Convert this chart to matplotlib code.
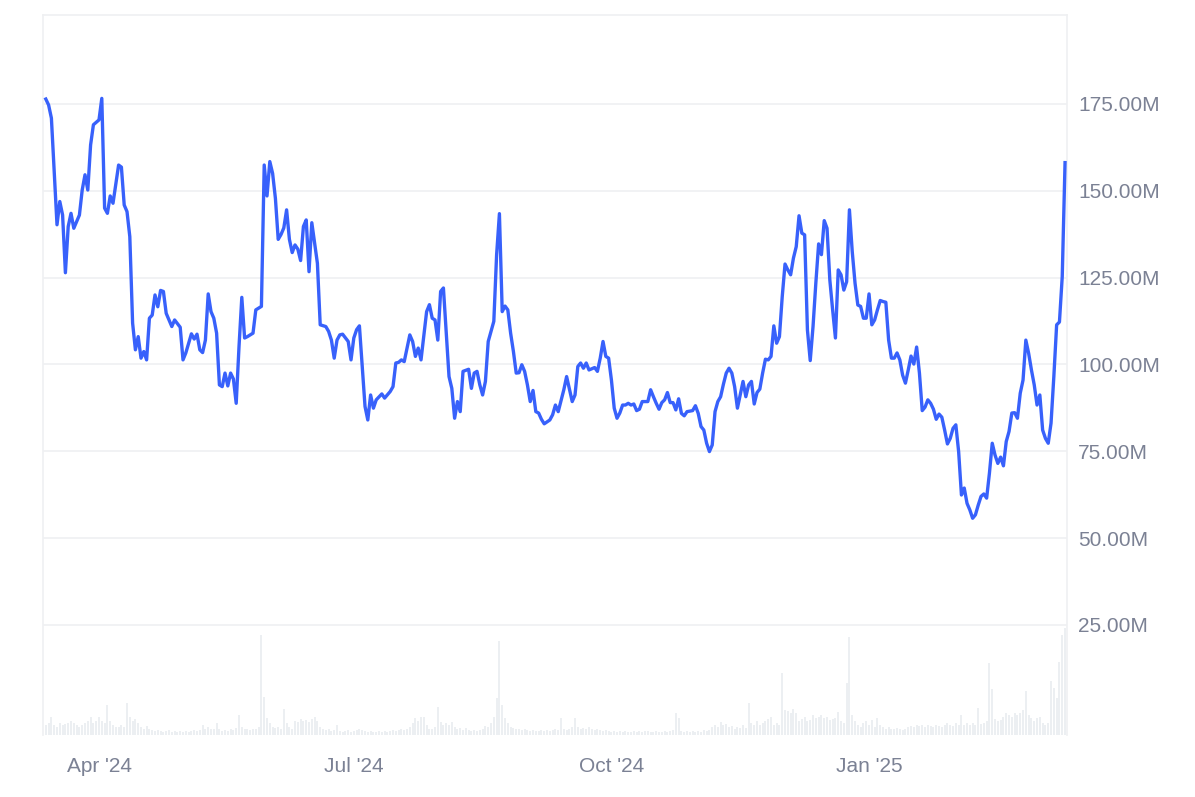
import pandas as pd
import matplotlib
matplotlib.use('Agg')
from matplotlib import pyplot
import matplotlib.dates as mdates
from matplotlib.ticker import FuncFormatter

line_colour = '#3861fb'
grid_colour = '#eff0f2'
bar_colour = '#eceff2'
label_colour = '#7b8194'

start_date = '2024-03-13'

# day offset from start_date and value (millions)
day = [
    0, 1, 2, 4, 5, 6, 7, 8, 9, 10, 12, 13, 14, 15, 16, 17, 19, 20, 21, 22,
    23, 24, 26, 27, 28, 29, 30, 31, 32, 33, 34, 35, 36, 37, 38, 39, 40, 41, 42, 43,
    45, 46, 48, 49, 50, 52, 53, 54, 55, 56, 57, 58, 59, 60, 61, 62, 63, 64, 65, 66,
    67, 68, 69, 70, 71, 72, 74, 75, 76, 77, 78, 79, 80, 81, 82, 83, 84, 85, 86, 87,
    88, 89, 90, 91, 92, 93, 94, 95, 96, 97, 98, 100, 101, 102, 103, 104, 105, 106, 108, 109,
    110, 111, 112, 113, 114, 115, 116, 117, 118, 120, 121, 123, 124, 125, 126, 127, 128, 130, 131, 132,
    133, 134, 136, 137, 138, 139, 140, 141, 142, 144, 145, 146, 147, 148, 149, 151, 152, 153, 154, 155,
    156, 157, 158, 159, 160, 161, 162, 163, 164, 165, 166, 167, 168, 169, 170, 171, 172, 173, 174, 175,
    176, 177, 178, 180, 181, 182, 183, 185, 186, 187, 188, 189, 190, 191, 192, 193, 194, 196, 197, 198,
    199, 200, 201, 202, 203, 204, 205, 206, 207, 208, 209, 210, 211, 212, 213, 215, 216, 217, 218, 219,
    220, 221, 222, 223, 224, 225, 226, 227, 228, 229, 231, 232, 233, 234, 235, 236, 237, 238, 239, 240,
    241, 242, 243, 244, 245, 246, 247, 248, 249, 250, 251, 252, 253, 254, 255, 256, 257, 258, 259, 260,
    261, 262, 263, 264, 265, 266, 267, 268, 269, 270, 271, 272, 273, 274, 275, 276, 277, 278, 279, 280,
    281, 282, 283, 284, 285, 286, 287, 288, 289, 290, 291, 292, 293, 294, 295, 296, 297, 298, 299, 300,
    301, 302, 303, 304, 305, 306, 307, 308, 309, 310, 311, 312, 313, 314, 315, 316, 317, 318, 319, 320,
    321, 322, 323, 324, 325, 326, 327, 328, 329, 330, 331, 332, 333, 334, 335, 336, 337, 338, 339, 340,
    341, 342, 343, 344, 345, 346, 347, 348, 349, 350, 351, 352, 353, 354, 355, 356, 357, 358, 359, 360,
    361, 362, 363, 364,
]
value = [
    176.4, 174.7, 170.9, 140.2, 146.9, 143.0, 126.4, 139.7, 143.5, 139.2, 143.0, 150.2, 154.6, 150.2, 163.2, 169.0, 170.4, 176.6, 145.0, 143.5,
    148.5, 146.4, 157.4, 156.8, 145.9, 144.0, 136.8, 111.9, 104.2, 108.0, 101.8, 103.7, 101.3, 113.3, 114.2, 120.0, 116.6, 121.3, 121.0, 114.7,
    110.9, 112.8, 110.7, 101.3, 103.3, 108.8, 107.3, 108.7, 104.2, 103.4, 107.0, 120.3, 115.2, 113.3, 109.0, 94.1, 93.6, 97.5, 93.8, 97.5,
    95.8, 88.8, 105.1, 119.3, 107.6, 108.0, 109.0, 115.7, 116.2, 116.7, 157.4, 148.5, 158.4, 155.0, 147.8, 136.0, 137.4, 139.3, 144.5, 136.0,
    132.2, 134.4, 133.2, 129.9, 139.7, 141.6, 126.7, 140.8, 134.9, 129.1, 111.4, 110.9, 109.5, 107.0, 101.8, 107.0, 108.5, 108.7, 106.6, 101.3,
    107.6, 110.0, 111.1, 99.4, 87.9, 84.0, 91.2, 87.4, 89.8, 91.5, 90.3, 92.2, 93.6, 100.4, 100.6, 101.3, 100.8, 108.5, 106.6, 102.3,
    104.7, 101.3, 115.2, 117.2, 113.3, 112.8, 107.0, 121.0, 122.0, 96.5, 93.1, 84.5, 89.3, 86.4, 98.0, 98.6, 93.1, 97.5, 98.0, 94.1,
    91.2, 95.1, 106.6, 109.5, 112.4, 131.6, 143.4, 115.2, 116.8, 115.7, 109.0, 103.7, 97.5, 97.6, 99.9, 98.0, 94.1, 89.3, 92.5, 86.4,
    86.0, 84.2, 82.9, 84.0, 85.5, 88.3, 86.4, 92.7, 96.5, 92.9, 89.3, 91.2, 99.4, 100.4, 98.9, 100.4, 98.4, 99.1, 98.0, 101.8,
    106.6, 102.3, 101.8, 95.5, 87.4, 84.5, 86.0, 88.3, 88.3, 88.8, 88.3, 88.6, 86.7, 87.1, 89.3, 89.3, 92.7, 90.7, 88.8, 87.1,
    89.0, 89.8, 91.9, 89.0, 89.0, 86.9, 90.1, 85.9, 85.2, 86.4, 86.7, 88.1, 85.9, 82.1, 81.1, 77.3, 74.9, 76.8, 86.4, 89.3,
    90.7, 94.3, 97.5, 98.9, 97.5, 93.6, 87.4, 91.2, 95.1, 90.7, 94.1, 95.1, 88.6, 91.9, 92.9, 97.5, 101.5, 101.3, 102.3, 111.1,
    106.1, 108.0, 119.5, 128.9, 127.2, 125.8, 130.6, 133.9, 142.8, 137.8, 137.3, 109.9, 101.1, 110.9, 123.4, 134.7, 131.6, 141.4, 139.2, 124.3,
    115.7, 107.6, 127.2, 125.8, 121.4, 123.8, 144.5, 132.5, 123.4, 117.1, 116.7, 113.3, 113.3, 120.3, 111.4, 112.8, 115.7, 118.4, 118.1, 117.9,
    107.0, 101.8, 101.8, 103.3, 101.3, 96.9, 94.6, 98.4, 102.4, 100.1, 105.0, 97.5, 86.7, 87.7, 89.8, 88.8, 87.1, 84.2, 85.7, 84.8,
    81.1, 77.1, 78.7, 81.6, 82.6, 74.9, 62.4, 64.4, 60.0, 58.1, 55.7, 56.7, 59.5, 62.0, 62.7, 61.5, 68.7, 77.3, 73.9, 71.5,
    73.3, 70.8, 77.8, 80.7, 86.0, 86.1, 84.5, 91.7, 95.5, 107.0, 103.2, 98.4, 94.1, 88.3, 91.2, 81.1, 78.7, 77.3, 83.1, 96.5,
    111.4, 112.2, 125.3, 158.1,
]

# daily volume (millions), one per day from start_date
volume = [
    2.5, 3.0, 4.5, 2.5, 2.0, 3.0, 2.5, 2.8, 3.0, 3.5,
    3.0, 2.5, 2.0, 2.5, 3.0, 3.5, 4.5, 3.0, 3.5, 4.5,
    3.5, 3.0, 7.5, 3.5, 2.5, 2.0, 2.0, 2.5, 2.0, 8.0,
    4.5, 3.5, 4.0, 3.0, 2.0, 1.5, 2.2, 1.5, 1.2, 1.0,
    1.2, 1.0, 0.8, 1.0, 1.2, 0.8, 1.0, 0.8, 1.0, 0.8,
    1.0, 0.8, 1.0, 1.2, 1.0, 1.2, 2.5, 1.5, 2.0, 1.5,
    1.5, 3.0, 1.5, 1.0, 1.2, 1.0, 1.5, 1.2, 1.8, 5.0,
    2.0, 1.5, 1.5, 1.2, 1.5, 1.5, 2.0, 25.0, 9.5, 4.2,
    3.0, 2.0, 1.8, 2.0, 1.5, 6.5, 3.0, 2.0, 1.5, 3.5,
    3.2, 4.0, 3.5, 3.8, 3.2, 4.0, 4.5, 3.5, 2.0, 1.5,
    1.2, 1.5, 1.0, 1.2, 2.5, 1.0, 0.8, 1.0, 1.2, 0.8,
    1.0, 1.2, 1.5, 1.2, 1.0, 0.8, 1.0, 0.8, 0.8, 1.0,
    0.8, 1.0, 0.8, 1.0, 1.2, 1.0, 1.2, 1.5, 1.2, 1.5,
    2.0, 3.0, 4.2, 3.5, 4.5, 4.5, 2.5, 1.5, 1.5, 2.0,
    7.0, 3.2, 2.5, 3.0, 2.5, 3.2, 2.0, 1.5, 1.8, 1.2,
    1.8, 1.2, 1.0, 1.2, 1.0, 1.2, 1.5, 2.2, 2.0, 3.0,
    4.5, 9.2, 23.5, 7.5, 4.2, 3.0, 2.0, 1.8, 1.5, 1.5,
    1.2, 1.5, 1.2, 1.0, 1.2, 1.0, 1.0, 1.2, 1.0, 1.2,
    1.0, 1.2, 1.5, 1.2, 4.2, 1.5, 1.2, 1.5, 2.0, 4.2,
    2.0, 1.5, 1.8, 1.5, 2.0, 1.5, 1.2, 1.5, 1.2, 1.0,
    1.2, 1.0, 0.8, 1.0, 0.8, 1.0, 0.8, 1.0, 0.8, 0.8,
    1.0, 0.8, 1.0, 0.8, 1.0, 1.0, 0.8, 0.8, 1.0, 0.8,
    0.8, 1.0, 0.8, 1.0, 1.2, 5.5, 4.2, 1.0, 0.8, 1.0,
    0.8, 1.0, 0.8, 1.0, 0.8, 1.2, 1.0, 1.2, 2.0, 2.5,
    2.0, 3.2, 2.5, 2.8, 2.0, 2.2, 1.5, 2.0, 1.8, 2.5,
    1.8, 8.0, 3.0, 2.5, 3.5, 2.5, 3.0, 3.5, 4.0, 4.5,
    2.5, 3.0, 2.5, 15.5, 6.2, 6.0, 5.5, 6.5, 5.5, 3.5,
    4.0, 4.5, 3.5, 3.8, 5.0, 4.2, 4.5, 5.0, 4.2, 4.5,
    3.8, 4.0, 4.2, 5.8, 3.5, 3.0, 13.0, 24.5, 5.0, 3.5,
    2.5, 2.0, 3.0, 3.5, 2.5, 3.8, 2.0, 4.2, 2.5, 2.0,
    1.5, 2.0, 1.5, 1.5, 1.8, 1.5, 1.2, 1.5, 2.0, 2.2,
    2.0, 2.5, 2.2, 2.5, 2.0, 2.5, 2.2, 2.0, 2.5, 2.2,
    2.0, 2.5, 3.0, 2.5, 2.2, 3.0, 2.5, 5.0, 2.5, 3.0,
    2.5, 3.0, 2.5, 6.8, 2.8, 3.0, 3.5, 18.0, 11.5, 4.0,
    3.5, 3.8, 4.5, 5.5, 5.0, 4.5, 5.5, 5.0, 5.5, 6.2,
    11.0, 5.0, 4.2, 3.5, 4.2, 4.5, 3.0, 2.5, 3.0, 13.5,
    11.8, 9.2, 18.2, 25.0, 26.8,
]

y_ticks = [25, 50, 75, 100, 125, 150, 175]


def plot_chart(filename):
    start = pd.Timestamp(start_date)
    line_dates = start + pd.to_timedelta(day, unit='D')
    vol_dates = pd.date_range(start, periods=len(volume), freq='D')

    fig = pyplot.figure(figsize=(11.95, 7.97), dpi=100)
    pyplot.rcParams['font.family'] = ['Liberation Sans', 'DejaVu Sans']

    left, width = 43 / 1195, 1024 / 1195
    bottom = 62 / 797
    x_lim = (start - pd.Timedelta(days=1), start + pd.Timedelta(days=364.7))

    # Volume bars sit in their own axes at the bottom
    ax_vol = fig.add_axes([left, bottom, width, 110 / 797])
    ax_vol.bar(vol_dates, volume, width=0.75, color=bar_colour, linewidth=0)
    ax_vol.set_xlim(*x_lim)
    ax_vol.set_ylim(0, 27.5)
    ax_vol.axis('off')

    # Main line axes on top
    ax = fig.add_axes([left, bottom, width, 720 / 797])
    ax.patch.set_alpha(0)
    ax.plot(line_dates, value, color=line_colour, linewidth=2.4,
            solid_joinstyle='round', zorder=3)
    ax.set_xlim(*x_lim)
    ax.set_ylim(-6.7, 200.6)

    ax.yaxis.tick_right()
    ax.set_yticks(y_ticks)
    ax.yaxis.set_major_formatter(FuncFormatter(lambda v, _: '%.2fM' % v))
    ax.grid(axis='y', color=grid_colour, linewidth=1.2)
    ax.grid(axis='x', visible=False)

    ax.xaxis.set_major_locator(mdates.MonthLocator(bymonth=[1, 4, 7, 10]))
    ax.xaxis.set_major_formatter(mdates.DateFormatter("%b '%y"))

    ax.tick_params(axis='both', length=0, labelsize=15, labelcolor=label_colour)
    ax.tick_params(axis='y', pad=8)
    ax.tick_params(axis='x', pad=16)

    for side in ['left', 'right', 'top']:
        ax.spines[side].set_color(grid_colour)
        ax.spines[side].set_linewidth(1.2)
    ax.spines['bottom'].set_visible(False)

    pyplot.savefig(filename, dpi=100)


plot_chart('out.png')
